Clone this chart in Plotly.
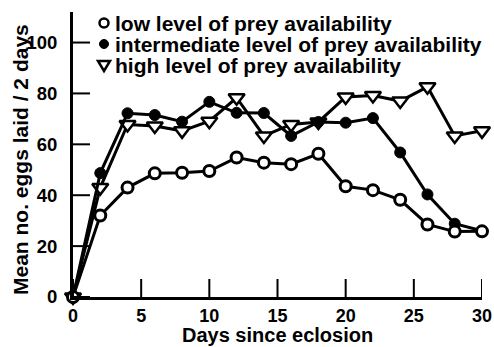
import plotly.graph_objects as go

days = [0, 2, 4, 6, 8, 10, 12, 14, 16, 18, 20, 22, 24, 26, 28, 30]
low = [0, 32, 43, 48.6, 48.8, 49.5, 54.8, 52.8, 52.2, 56.3, 43.5, 42, 38.2, 28.5, 25.7, 25.8]
intermediate = [0, 48.7, 72.2, 71.5, 68.9, 76.7, 72.4, 72.3, 63.3, 68.8, 68.5, 70.3, 56.8, 40.3, 28.8, 26]
high = [0, 43, 67.8, 67.2, 65.3, 69.1, 78.3, 63.3, 67.8, 68.8, 78.6, 79.2, 77, 82.6, 63.3, 65.3]
labels = ["low level of prey availability",
          "intermediate level of prey availability",
          "high level of prey availability"]
xticks = [0, 5, 10, 15, 20, 25, 30]
yticks = [0, 20, 40, 60, 80, 100]

FONT = "Liberation Sans, Arial, sans-serif"
fig = go.Figure()

styles = [
    dict(symbol="circle", color="white", size=11, lw=3),
    dict(symbol="circle", color="black", size=11, lw=1),
    dict(symbol="triangle-down", color="white", size=14, lw=2.5),
]
series = [low, intermediate, high]
for i in [2, 1, 0]:
    st = styles[i]
    fig.add_trace(go.Scatter(
        x=days, y=series[i], mode="lines+markers",
        line=dict(color="black", width=3),
        marker=dict(symbol=st["symbol"], color=st["color"], size=st["size"],
                    line=dict(color="black", width=st["lw"])),
        showlegend=False, cliponaxis=False, hoverinfo="skip"))

W, H = 494, 347
ml, mr, mt, mb = 73, 12, 12, 50
pw, ph = W - ml - mr, H - mt - mb
def px(xp):
    return (xp - ml) / pw
def py(yp):
    return (H - mb - yp) / ph

# inside tick marks
for v in xticks:
    fig.add_shape(type="line", xref="x", yref="paper", x0=v, x1=v, y0=0, y1=18 / ph,
                  line=dict(color="black", width=2))
for v in yticks:
    fig.add_shape(type="line", xref="paper", yref="y", x0=0, x1=17 / pw, y0=v, y1=v,
                  line=dict(color="black", width=2))

# legend drawn as text + pixel-sized shapes
rows_y = [23, 44, 65]
mx, tx = 104, 113
for i, lab in enumerate(labels):
    fig.add_annotation(xref="paper", yref="paper", x=px(tx), y=py(rows_y[i]),
                       text="<b>" + lab + "</b>", showarrow=False, xanchor="left", yanchor="middle",
                       font=dict(size=21, family=FONT, color="black"))
fig.add_shape(type="circle", xref="paper", yref="paper", xsizemode="pixel", ysizemode="pixel",
              xanchor=px(mx), yanchor=py(rows_y[0]), x0=-4.5, x1=4.5, y0=-4.5, y1=4.5,
              line=dict(color="black", width=2.5), fillcolor="white")
fig.add_shape(type="circle", xref="paper", yref="paper", xsizemode="pixel", ysizemode="pixel",
              xanchor=px(mx), yanchor=py(rows_y[1]), x0=-4.5, x1=4.5, y0=-4.5, y1=4.5,
              line=dict(color="black", width=1), fillcolor="black")
fig.add_shape(type="path", xref="paper", yref="paper", xsizemode="pixel", ysizemode="pixel",
              xanchor=px(mx), yanchor=py(rows_y[2]),
              path="M -6 4 L 6 4 L 0 -6 Z",
              line=dict(color="black", width=2.5), fillcolor="white")

# axis titles as annotations
fig.add_annotation(xref="paper", yref="paper", x=px(277), y=py(335),
                   text="<b>Days since eclosion</b>", showarrow=False,
                   xanchor="center", yanchor="middle",
                   font=dict(size=20, family=FONT, color="black"))
fig.add_annotation(xref="paper", yref="paper", x=px(20), y=py(160),
                   text="<b>Mean no. eggs laid / 2 days</b>", showarrow=False,
                   textangle=-90, xanchor="center", yanchor="middle",
                   font=dict(size=21, family=FONT, color="black"))

fig.update_layout(
    width=W, height=H,
    margin=dict(l=ml, r=mr, t=mt, b=mb, autoexpand=False),
    plot_bgcolor="white", paper_bgcolor="white",
    font=dict(family=FONT, color="black", size=18),
    showlegend=False,
    xaxis=dict(range=[0, 30], tickvals=xticks, ticktext=["<b>%d</b>" % v for v in xticks],
               ticks="", showline=True, linewidth=3, linecolor="black",
               showgrid=False, zeroline=False, layer="above traces", automargin=False,
               tickfont=dict(size=18, family=FONT), ticklabelstandoff=0),
    yaxis=dict(range=[0, 112], tickvals=yticks, ticktext=["<b>%d</b>" % v for v in yticks],
               ticks="", showline=True, linewidth=3, linecolor="black",
               showgrid=False, zeroline=False, layer="above traces", automargin=False,
               tickfont=dict(size=18.5, family=FONT), ticklabelstandoff=9),
)

fig.write_html("out.html", config={"displayModeBar": False},
               post_script="document.body.style.margin='0';document.body.style.padding='0';")
